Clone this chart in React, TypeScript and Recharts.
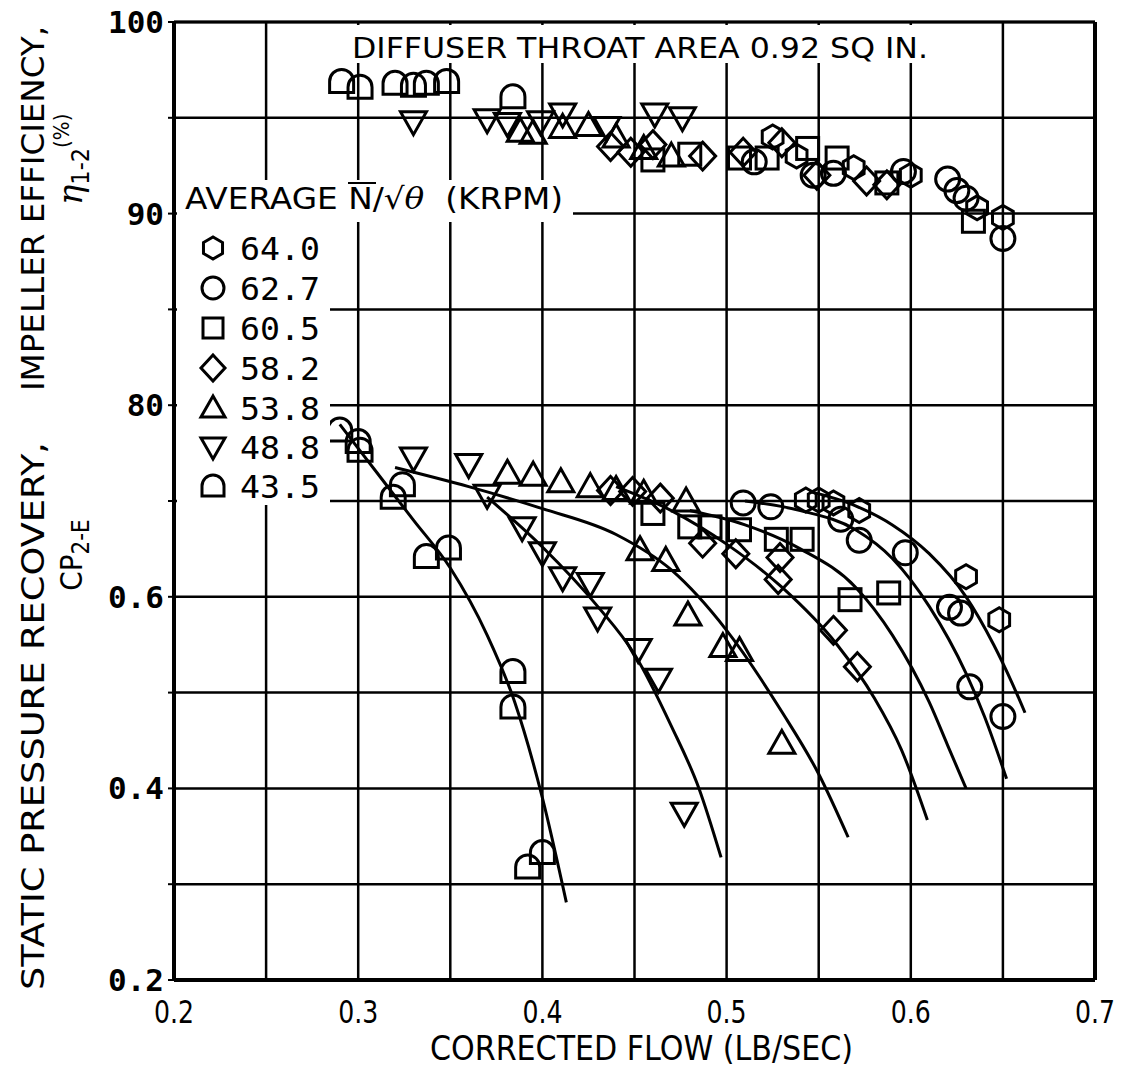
import { ComposedChart, Scatter, Line, XAxis, YAxis, CartesianGrid, ReferenceLine } from "recharts";

// axes
const flowTicks = [0.2, 0.25, 0.3, 0.35, 0.4, 0.45, 0.5, 0.55, 0.6, 0.65, 0.7];
const flowLabels = ["0.2", "", "0.3", "", "0.4", "", "0.5", "", "0.6", "", "0.7"];
const yTicks = [0.2, 0.3, 0.4, 0.5, 0.6, 0.7, 0.8, 0.9, 1.0, 1.1, 1.2];
const yLabels = ["0.2", "", "0.4", "", "0.6", "", "80", "", "90", "", "100"];

// legend
const speeds = ["64.0", "62.7", "60.5", "58.2", "53.8", "48.8", "43.5"];
const symbols = ["hexagon", "circle", "square", "diamond", "triangle", "triangleDown", "dome"];

// impeller efficiency (%) vs corrected flow
const eff640 = [[0.525, 94.0], [0.538, 93.0], [0.569, 92.4], [0.6, 92.0], [0.636, 90.3], [0.65, 89.8]];
const eff627 = [[0.515, 92.7], [0.547, 92.0], [0.558, 92.1], [0.596, 92.2], [0.62, 91.8], [0.625, 91.2], [0.63, 90.8], [0.65, 88.7]];
const eff605 = [[0.46, 92.8], [0.48, 93.1], [0.507, 92.9], [0.522, 92.9], [0.544, 93.4], [0.56, 92.9], [0.587, 91.6], [0.634, 89.6]];
const eff582 = [[0.437, 93.5], [0.448, 93.2], [0.46, 93.6], [0.487, 93.0], [0.509, 93.2], [0.53, 93.7], [0.549, 92.0], [0.576, 91.7], [0.587, 91.5]];
const eff538 = [[0.388, 94.3], [0.395, 94.2], [0.411, 94.5], [0.425, 94.6], [0.44, 94.0], [0.455, 93.4], [0.47, 93.0]];
const eff488 = [[0.33, 94.8], [0.37, 94.9], [0.381, 94.7], [0.399, 94.8], [0.411, 95.2], [0.435, 94.5], [0.461, 95.2], [0.476, 95.0]];
const eff435 = [[0.291, 96.9], [0.301, 96.6], [0.32, 96.8], [0.33, 96.7], [0.337, 96.8], [0.348, 96.9], [0.384, 96.1]];

// static pressure recovery CP2-E vs corrected flow
const cp640 = [[0.543, 0.701], [0.55, 0.701], [0.558, 0.698], [0.572, 0.69], [0.63, 0.621], [0.648, 0.576]];
const cp627 = [[0.509, 0.698], [0.524, 0.694], [0.562, 0.681], [0.572, 0.659], [0.597, 0.646], [0.621, 0.589], [0.627, 0.583], [0.632, 0.506], [0.65, 0.475]];
const cp605 = [[0.46, 0.687], [0.48, 0.673], [0.491, 0.673], [0.507, 0.67], [0.527, 0.66], [0.541, 0.66], [0.567, 0.597], [0.588, 0.604]];
const cp582 = [[0.437, 0.711], [0.449, 0.71], [0.464, 0.703], [0.487, 0.656], [0.505, 0.645], [0.528, 0.618], [0.529, 0.641], [0.558, 0.565], [0.571, 0.527]];
const cp538 = [[0.381, 0.729], [0.395, 0.727], [0.41, 0.72], [0.426, 0.715], [0.44, 0.712], [0.455, 0.708], [0.453, 0.649], [0.467, 0.638], [0.478, 0.7], [0.479, 0.581], [0.498, 0.548], [0.507, 0.544], [0.53, 0.447]];
const cp488 = [[0.33, 0.745], [0.36, 0.738], [0.37, 0.706], [0.389, 0.672], [0.4, 0.646], [0.411, 0.62], [0.426, 0.614], [0.43, 0.578], [0.452, 0.545], [0.463, 0.514], [0.477, 0.374]];
const cp435 = [[0.29, 0.774], [0.3, 0.762], [0.301, 0.753], [0.319, 0.704], [0.324, 0.717], [0.337, 0.642], [0.349, 0.651], [0.384, 0.522], [0.384, 0.485], [0.392, 0.318], [0.4, 0.333]];

// faired curves through CP data
const fit640 = [[0.545, 0.71], [0.57, 0.695], [0.59, 0.675], [0.61, 0.645], [0.63, 0.6], [0.645, 0.55], [0.655, 0.51], [0.662, 0.479]];
const fit627 = [[0.51, 0.7], [0.54, 0.69], [0.57, 0.67], [0.59, 0.64], [0.61, 0.59], [0.63, 0.52], [0.64, 0.475], [0.652, 0.41]];
const fit605 = [[0.48, 0.69], [0.51, 0.675], [0.54, 0.65], [0.57, 0.61], [0.59, 0.56], [0.61, 0.49], [0.62, 0.445], [0.63, 0.4]];
const fit582 = [[0.44, 0.715], [0.47, 0.69], [0.5, 0.655], [0.53, 0.61], [0.56, 0.55], [0.58, 0.495], [0.595, 0.44], [0.609, 0.367]];
const fit538 = [[0.32, 0.735], [0.36, 0.715], [0.4, 0.692], [0.44, 0.665], [0.47, 0.628], [0.5, 0.565], [0.53, 0.48], [0.55, 0.415], [0.566, 0.349]];
const fit488 = [[0.37, 0.704], [0.4, 0.652], [0.43, 0.59], [0.45, 0.54], [0.47, 0.465], [0.485, 0.4], [0.497, 0.328]];
const fit435 = [[0.29, 0.78], [0.31, 0.73], [0.33, 0.68], [0.35, 0.63], [0.37, 0.56], [0.385, 0.49], [0.4, 0.39], [0.413, 0.281]];

const effSets = [eff640, eff627, eff605, eff582, eff538, eff488, eff435];
const cpSets = [cp640, cp627, cp605, cp582, cp538, cp488, cp435];
const fitSets = [fit640, fit627, fit605, fit582, fit538, fit488, fit435];

// efficiency scale sits on top of the CP scale: 80% at 0.8, 10% per 0.2
const effToAxis = (e: number) => 0.8 + (e - 80) / 50;

const condensed = "'DejaVu Sans Condensed', 'Liberation Sans Narrow', 'DejaVu Sans', sans-serif";
const mono = "'DejaVu Sans Mono', 'Liberation Mono', monospace";

function Marker({ cx, cy, kind, r = 12 }: { cx: number; cy: number; kind: string; r?: number }) {
  const common = { fill: "none", stroke: "#000", strokeWidth: 3 };
  if (kind === "circle") return <circle cx={cx} cy={cy} r={r} {...common} />;
  if (kind === "square") return <rect x={cx - r + 1} y={cy - r + 1} width={2 * r - 2} height={2 * r - 2} {...common} />;
  if (kind === "diamond")
    return <polygon points={`${cx},${cy - r - 2} ${cx + r + 1},${cy} ${cx},${cy + r + 2} ${cx - r - 1},${cy}`} {...common} />;
  if (kind === "triangle")
    return <polygon points={`${cx},${cy - r - 1} ${cx + r + 1},${cy + r - 2} ${cx - r - 1},${cy + r - 2}`} {...common} />;
  if (kind === "triangleDown")
    return <polygon points={`${cx},${cy + r + 1} ${cx + r + 1},${cy - r + 2} ${cx - r - 1},${cy - r + 2}`} {...common} />;
  if (kind === "dome")
    return <path d={`M${cx - r} ${cy + r - 1} L${cx - r} ${cy} A${r} ${r} 0 0 1 ${cx + r} ${cy} L${cx + r} ${cy + r - 1} Z`} {...common} />;
  const pts = [30, 90, 150, 210, 270, 330]
    .map((a) => `${cx + r * Math.cos((a * Math.PI) / 180)},${cy + r * Math.sin((a * Math.PI) / 180)}`)
    .join(" ");
  return <polygon points={pts} {...common} />;
}

function FlowTick({ x, payload }: any) {
  const i = flowTicks.findIndex((t) => Math.abs(t - payload.value) < 1e-6);
  const label = flowLabels[i] ?? "";
  if (!label) return null;
  return (
    <text x={x - 20} y={1023} fontSize={32} fontFamily={condensed} textLength={40} lengthAdjust="spacingAndGlyphs" fill="#000">
      {label}
    </text>
  );
}

export default function App() {
  const rows = [248, 288, 328, 368, 408, 447, 486];
  return (
    <div style={{ position: "absolute", left: 0, top: 0, width: 1121, height: 1069, background: "#fff" }}>
      <ComposedChart width={1121} height={1069} margin={{ top: 22, right: 26, bottom: 59, left: 114 }}>
        <CartesianGrid stroke="#000" strokeWidth={2.5} />
        <XAxis
          dataKey="x"
          type="number"
          domain={[0.2, 0.7]}
          ticks={flowTicks}
          height={30}
          allowDataOverflow
          axisLine={{ stroke: "#000", strokeWidth: 4 }}
          tickLine={false}
          tick={<FlowTick />}
        />
        <YAxis
          dataKey="y"
          type="number"
          domain={[0.2, 1.2]}
          ticks={yTicks}
          width={60}
          allowDataOverflow
          tickFormatter={(v: number) => yLabels[yTicks.findIndex((t) => Math.abs(t - v) < 1e-6)] ?? ""}
          axisLine={{ stroke: "#000", strokeWidth: 4 }}
          tickLine={{ stroke: "#000", strokeWidth: 2 }}
          tickSize={6}
          tickMargin={4}
          tick={{ fill: "#000", fontSize: 31, fontFamily: mono, fontWeight: "bold" }}
        />
        <ReferenceLine x={0.7} stroke="#000" strokeWidth={4} />
        <ReferenceLine y={1.2} stroke="#000" strokeWidth={3} />
        {fitSets.map((fit, i) => (
          <Line
            key={"fit" + i}
            data={fit.map(([x, y]) => ({ x, y }))}
            dataKey="y"
            type="monotone"
            dot={false}
            activeDot={false}
            stroke="#000"
            strokeWidth={3}
            isAnimationActive={false}
          />
        ))}
        {speeds.map((s, i) => (
          <Scatter
            key={s}
            name={s}
            data={[
              ...effSets[i].map(([x, e]) => ({ x, y: effToAxis(e) })),
              ...cpSets[i].map(([x, y]) => ({ x, y })),
            ]}
            dataKey="y"
            isAnimationActive={false}
            shape={(p: any) => <Marker cx={p.cx} cy={p.cy} kind={symbols[i]} />}
          />
        ))}
      </ComposedChart>
      <svg width={1121} height={1069} style={{ position: "absolute", left: 0, top: 0, pointerEvents: "none" }}>
        {/* title */}
        <rect x={345} y={25} width={592} height={38} fill="#fff" />
        <text x={352} y={58} fontSize={29} fontFamily={condensed} textLength={576} lengthAdjust="spacingAndGlyphs">
          DIFFUSER THROAT AREA 0.92 SQ IN.
        </text>
        {/* legend */}
        <rect x={177} y={180} width={396} height={42} fill="#fff" />
        <rect x={177} y={222} width={153} height={283} fill="#fff" />
        <text x={185} y={209} fontSize={30} fontFamily="'DejaVu Sans', sans-serif" textLength={378} lengthAdjust="spacingAndGlyphs">
          AVERAGE N/√<tspan fontStyle="italic" fontFamily="'DejaVu Serif', serif">θ</tspan>
          {"\u00a0\u00a0(KRPM)"}
        </text>
        <line x1={348} y1={183} x2={376} y2={183} stroke="#000" strokeWidth={2} />
        {speeds.map((s, i) => (
          <g key={s}>
            <Marker cx={213} cy={rows[i]} kind={symbols[i]} r={11} />
            <text x={240} y={rows[i] + 12} fontSize={32} fontFamily={mono} textLength={80} lengthAdjust="spacingAndGlyphs">
              {s}
            </text>
          </g>
        ))}
        {/* y axis titles */}
        <text transform="translate(44,990) rotate(-90)" fontSize={32} fontFamily={condensed} textLength={548} lengthAdjust="spacingAndGlyphs">
          STATIC PRESSURE RECOVERY,
        </text>
        <text transform="translate(44,391) rotate(-90)" fontSize={32} fontFamily={condensed} textLength={365} lengthAdjust="spacingAndGlyphs">
          IMPELLER EFFICIENCY,
        </text>
        <text transform="translate(82,555) rotate(-90)" fontSize={31} fontFamily={condensed} textAnchor="middle">
          CP<tspan fontSize={24} dy={7}>2-E</tspan>
        </text>
        <text transform="translate(82,205) rotate(-90)" fontSize={34} fontFamily="'DejaVu Serif', serif">
          <tspan fontStyle="italic">η</tspan>
          <tspan fontSize={25} dy={7} fontFamily={condensed}>1-2</tspan>
          <tspan fontSize={22} dy={-20} fontFamily={condensed}>(%)</tspan>
        </text>
        {/* x axis title */}
        <text x={430} y={1060} fontSize={33} fontFamily={condensed} textLength={423} lengthAdjust="spacingAndGlyphs">
          CORRECTED FLOW (LB/SEC)
        </text>
      </svg>
    </div>
  );
}
